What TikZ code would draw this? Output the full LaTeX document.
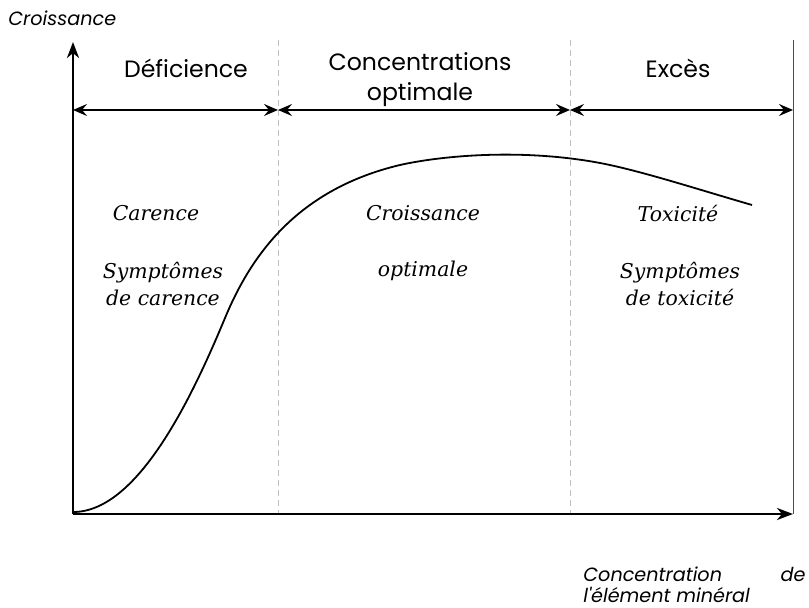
\documentclass[tikz,border=0pt]{standalone}
\usepackage{fontspec}
\setmainfont{DejaVu Serif}
\newfontfamily\headfont{Poppins}
\usetikzlibrary{arrows.meta}
\begin{document}
\begin{tikzpicture}[x=0.5pt,y=-0.5pt,
  axis/.style={line width=1.4pt,-{Stealth[length=8pt,width=6pt,inset=2.5pt]}},
  span/.style={line width=0.8pt,{Stealth[length=7pt,width=6pt,inset=2.5pt]}-{Stealth[length=7pt,width=6pt,inset=2.5pt]}},
  divider/.style={black!25,densely dashed,line width=0.3pt},
  border/.style={black!70,line width=0.5pt},
  head/.style={font=\headfont\fontsize{11.8}{15}\selectfont,inner sep=0pt},
  axlabel/.style={font=\headfont\itshape\fontsize{9.6}{10.5}\selectfont,inner sep=0pt},
  zone/.style={font=\itshape\fontsize{10.2}{13.5}\selectfont,align=center,inner sep=0pt},
  curve/.style={line width=0.9pt}]
\useasboundingbox (0,0) rectangle (809,608);

% axes and frame points
\coordinate (O) at (73,514);
\coordinate (Ytop) at (73,42);
\coordinate (Xend) at (793,514);
\coordinate (d1t) at (278,40); \coordinate (d1b) at (278,514);
\coordinate (d2t) at (570,40); \coordinate (d2b) at (570,514);
\coordinate (rt) at (793,40);  \coordinate (rb) at (793,514);
\coordinate (a0) at (73,110);  \coordinate (a1) at (278,110);
\coordinate (a2) at (570,110); \coordinate (a3) at (793,110);

% zone separators
\draw[divider] (d1t) -- (d1b);
\draw[divider] (d2t) -- (d2b);
\draw[border] (rt) -- (rb);

% growth curve
\draw[curve] (74,512) .. controls (140,511) and (195,390) .. (225,318)
  .. controls (250,258) and (295,190) .. (400,165)
  .. controls (440,156) and (520,148) .. (600,163)
  .. controls (640,170.5) and (700,190) .. (752,205);

% axes
\draw[axis] (O) -- (Ytop);
\draw[axis] (O) -- (Xend);

% range arrows
\draw[span] (a0) -- (a1);
\draw[span] (a1) -- (a2);
\draw[span] (a2) -- (a3);

% headings
\node[head] (hdef) at (186,68) {Déficience};
\node[head,align=center] (hopt) at (420,80) {Concentrations\\optimale};
\node[head] (hexc) at (678,68) {Excès};

% axis labels
\node[axlabel,anchor=west] (ylab) at (8,18) {Croissance};
\node[axlabel,anchor=north west,text width=111pt,align=justify] (xlab) at (583,566)
  {Concentration de\linebreak l'élément minéral};

% zone descriptions
\node[zone] (z1a) at (156,213) {Carence};
\node[zone] (z1b) at (163,284) {Symptômes\\de carence};
\node[zone] (z2a) at (423,213) {Croissance};
\node[zone] (z2b) at (423,271) {optimale};
\node[zone] (z3a) at (678,213) {Toxicité};
\node[zone] (z3b) at (680,284) {Symptômes\\de toxicité};
\end{tikzpicture}
\end{document}
